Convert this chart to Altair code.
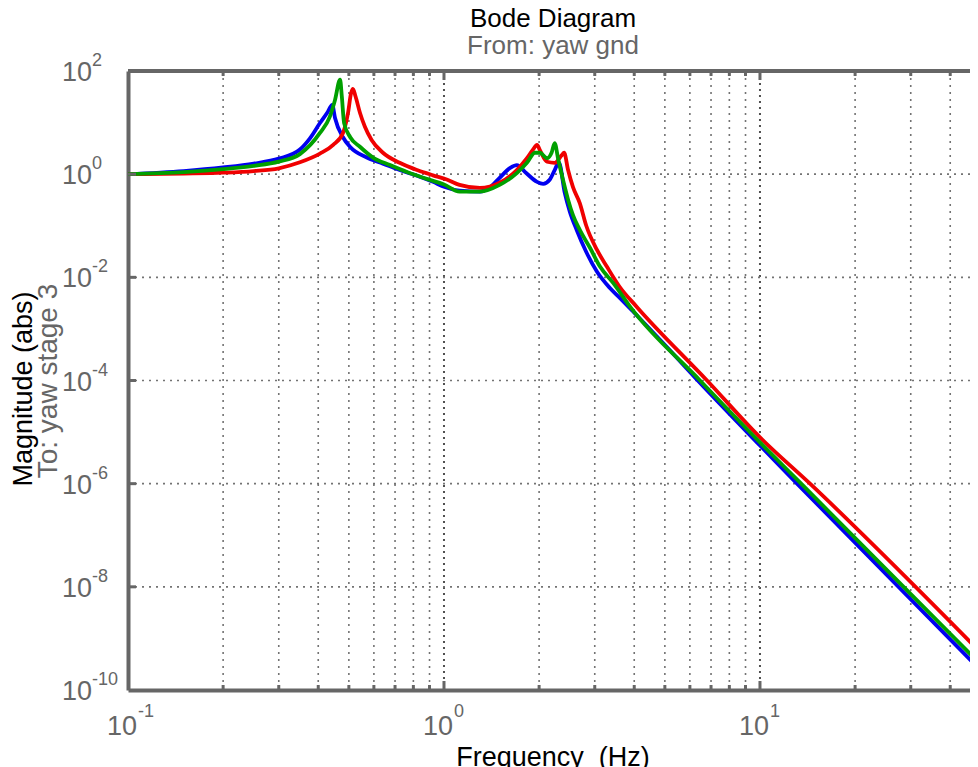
import altair as alt
import pandas as pd

# ---------------- data ----------------
series_names = ["blue", "red", "green"]
series_colors = ["#0000f0", "#f00000", "#00a000"]

blue_freq = [0.1, 0.15, 0.2, 0.25, 0.3, 0.35, 0.377, 0.405, 0.427, 0.443, 0.452, 0.479,
             0.504, 0.57, 0.641, 0.724, 0.822, 0.923, 1.0, 1.12, 1.3, 1.4, 1.5, 1.62,
             1.7, 1.82, 1.97, 2.06, 2.16, 2.24, 2.31, 2.41, 2.5, 2.63, 2.82, 3.05,
             3.35, 3.6, 3.96, 5.1, 6.31, 10, 13.1, 49]
blue_mag = [1.0, 1.15, 1.35, 1.6, 2.0, 3.0, 5.0, 9.8, 15.5, 22, 12.3, 5.2,
            3.4, 2.1, 1.6, 1.2, 0.93, 0.71, 0.57, 0.48, 0.46, 0.56, 0.85, 1.32,
            1.5, 1.05, 0.71, 0.65, 0.78, 1.2, 1.7, 0.44, 0.19, 0.083, 0.031, 0.0128,
            0.0062, 0.004, 0.0022, 4.3e-4, 1.05e-4, 5.5e-6, 1e-6, 2.7e-10]

red_freq = [0.1, 0.15, 0.2, 0.25, 0.3, 0.35, 0.405, 0.446, 0.479, 0.497, 0.508, 0.515,
            0.525, 0.542, 0.562, 0.59, 0.641, 0.724, 0.822, 0.923, 1.02, 1.12, 1.3,
            1.5, 1.7, 1.83, 1.91, 1.97, 2.01, 2.12, 2.24, 2.36, 2.4, 2.47, 2.56, 2.69,
            2.82, 3.05, 3.28, 3.6, 4.07, 6.8, 10, 14.4, 49]
red_mag = [1.0, 1.03, 1.07, 1.15, 1.3, 1.7, 2.5, 3.7, 6.3, 15.5, 37, 45,
           32, 15.5, 8.3, 4.6, 2.6, 1.66, 1.2, 0.95, 0.79, 0.62, 0.54,
           0.68, 1.2, 2.04, 2.95, 3.7, 2.95, 1.74, 1.66, 2.34, 2.6, 1.2, 0.56, 0.275,
           0.1, 0.034, 0.016, 0.0065, 0.0027, 1e-4, 7.9e-6, 1e-6, 6e-10]

green_freq = [0.1, 0.15, 0.2, 0.25, 0.3, 0.35, 0.405, 0.435, 0.452, 0.469, 0.475, 0.483,
              0.505, 0.542, 0.596, 0.675, 0.764, 0.86, 1.0, 1.12, 1.3, 1.5, 1.7, 1.83,
              1.94, 2.01, 2.12, 2.19, 2.24, 2.3, 2.38, 2.47, 2.56, 2.69, 2.9, 3.12,
              3.43, 3.88, 6.46, 10, 13.5, 49]
green_mag = [1.0, 1.1, 1.25, 1.45, 1.75, 2.45, 6.3, 12.9, 27.5, 68, 32, 9.8,
             5.2, 3.4, 2.1, 1.5, 1.1, 0.85, 0.63, 0.46, 0.46, 0.62, 1.05, 1.66,
             2.6, 2.6, 2.04, 2.6, 4.0, 1.9, 0.78, 0.32, 0.16, 0.083, 0.037, 0.016,
             0.0078, 0.0027, 1e-4, 6.3e-6, 1e-6, 3.5e-10]

x_minor = [0.2, 0.3, 0.4, 0.5, 0.6, 0.7, 0.8, 0.9, 2, 3, 4, 5, 6, 7, 8, 9, 20, 30, 40]
x_major = [1, 10]
y_grid = [1, 1e-2, 1e-4, 1e-6, 1e-8]

x_label_vals = [0.1, 1, 10]
x_label_exps = ["-1", "0", "1"]
y_label_vals = [1e2, 1, 1e-2, 1e-4, 1e-6, 1e-8, 1e-10]
y_label_exps = ["2", "0", "-2", "-4", "-6", "-8", "-10"]
label_base = "10"

title_text = "Bode Diagram"
subtitle_text = "From: yaw gnd"
ytitle_text = "Magnitude (abs)"
ysub_text = "To: yaw stage 3"
xtitle_text = "Frequency\u00a0 (Hz)"

# ---------------- chart ----------------
W, H = 842, 619
FONT = "Liberation Sans"
GRAY = "#666666"
xscale = alt.Scale(type="log", domain=[0.1, 46.2], nice=False)
yscale = alt.Scale(type="log", domain=[1e-10, 1e2], nice=False)


def X(field):
    return alt.X(field, type="quantitative", scale=xscale, title=None)


def Y(field):
    return alt.Y(field, type="quantitative", scale=yscale, title=None)


grid_x_minor = alt.Chart(pd.DataFrame({"f": x_minor})).mark_rule(
    color="#737373", strokeWidth=1.6, strokeDash=[2, 5]).encode(x=X("f"))
grid_x_major = alt.Chart(pd.DataFrame({"f": x_major})).mark_rule(
    color="#505050", strokeWidth=2, strokeDash=[2, 4]).encode(x=X("f"))
grid_y = alt.Chart(pd.DataFrame({"v": y_grid})).mark_rule(
    color="#737373", strokeWidth=1.6, strokeDash=[2, 5]).encode(y=Y("v"))

tick_bot_minor = alt.Chart(pd.DataFrame({"f": x_minor})).mark_rule(
    color=GRAY, strokeWidth=3).encode(x=X("f"), y=alt.value(H), y2=alt.value(H - 5))
tick_top_minor = alt.Chart(pd.DataFrame({"f": x_minor})).mark_rule(
    color=GRAY, strokeWidth=3).encode(x=X("f"), y=alt.value(0), y2=alt.value(5))
tick_bot_major = alt.Chart(pd.DataFrame({"f": x_major})).mark_rule(
    color=GRAY, strokeWidth=3).encode(x=X("f"), y=alt.value(H), y2=alt.value(H - 9))
tick_top_major = alt.Chart(pd.DataFrame({"f": x_major})).mark_rule(
    color=GRAY, strokeWidth=3).encode(x=X("f"), y=alt.value(0), y2=alt.value(9))
tick_left = alt.Chart(pd.DataFrame({"v": y_grid})).mark_rule(
    color=GRAY, strokeWidth=3).encode(y=Y("v"), x=alt.value(0), x2=alt.value(8))

top_border = alt.Chart(pd.DataFrame({"v": [y_label_vals[0]]})).mark_rule(
    color=GRAY, strokeWidth=4).encode(y=Y("v"))


def series_layer(freq, mag, color):
    df = pd.DataFrame({"freq": freq, "mag": mag})
    return alt.Chart(df).mark_line(color=color, strokeWidth=3.8, clip=True,
                                   interpolate="monotone").encode(x=X("freq"), y=Y("mag"))


line_layers = [
    series_layer(blue_freq, blue_mag, series_colors[0]),
    series_layer(red_freq, red_mag, series_colors[1]),
    series_layer(green_freq, green_mag, series_colors[2]),
]

xlab_df = pd.DataFrame({"f": x_label_vals, "e": x_label_exps, "b": [label_base] * 3})
xlab_base = alt.Chart(xlab_df).mark_text(
    align="right", baseline="alphabetic", dx=9, font=FONT, fontSize=27, color=GRAY
).encode(x=X("f"), y=alt.value(H + 45), text="b:N")
xlab_exp = alt.Chart(xlab_df).mark_text(
    align="left", baseline="alphabetic", dx=10, font=FONT, fontSize=18, color=GRAY
).encode(x=X("f"), y=alt.value(H + 27), text="e:N")

ylab_df = pd.DataFrame({"v": y_label_vals, "e": y_label_exps, "b": [label_base] * 7})
ylab_base = alt.Chart(ylab_df).mark_text(
    align="left", baseline="alphabetic", dy=10, font=FONT, fontSize=27, color=GRAY
).encode(y=Y("v"), x=alt.value(-66), text="b:N")
ylab_exp = alt.Chart(ylab_df).mark_text(
    align="left", baseline="alphabetic", dy=-5, font=FONT, fontSize=18, color=GRAY
).encode(y=Y("v"), x=alt.value(-36), text="e:N")


def label(text, x, y, color, angle=0, size=27):
    kw = dict(align="center", baseline="alphabetic", font=FONT, fontSize=size, color=color)
    if angle:
        kw["angle"] = angle
    return alt.Chart(pd.DataFrame({"t": [text]})).mark_text(**kw).encode(
        x=alt.value(x), y=alt.value(y), text="t:N")


titles = [
    label(title_text, 425, -44, "#000000", size=26),
    label(subtitle_text, 425, -17, GRAY, size=26),
    label(ytitle_text, -96, 318, "#000000", angle=270),
    label(ysub_text, -71, 310, GRAY, angle=270, size=28),
    label(xtitle_text, 425, H + 76, "#000000"),
]

chart = alt.layer(
    grid_x_minor, grid_x_major, grid_y,
    *line_layers,
    tick_bot_minor, tick_top_minor, tick_bot_major, tick_top_major, tick_left,
    top_border,
    xlab_base, xlab_exp, ylab_base, ylab_exp,
    *titles,
).properties(
    width=W, height=H,
    padding={"left": 120, "top": 63, "right": 0, "bottom": 77},
    autosize=alt.AutoSizeParams(type="none"),
    background="white",
).configure_view(stroke=None).configure_axis(
    labels=False, ticks=False, grid=False, domainColor=GRAY, domainWidth=4,
)

chart.save("out.html", embed_options={"renderer": "svg", "actions": False})
